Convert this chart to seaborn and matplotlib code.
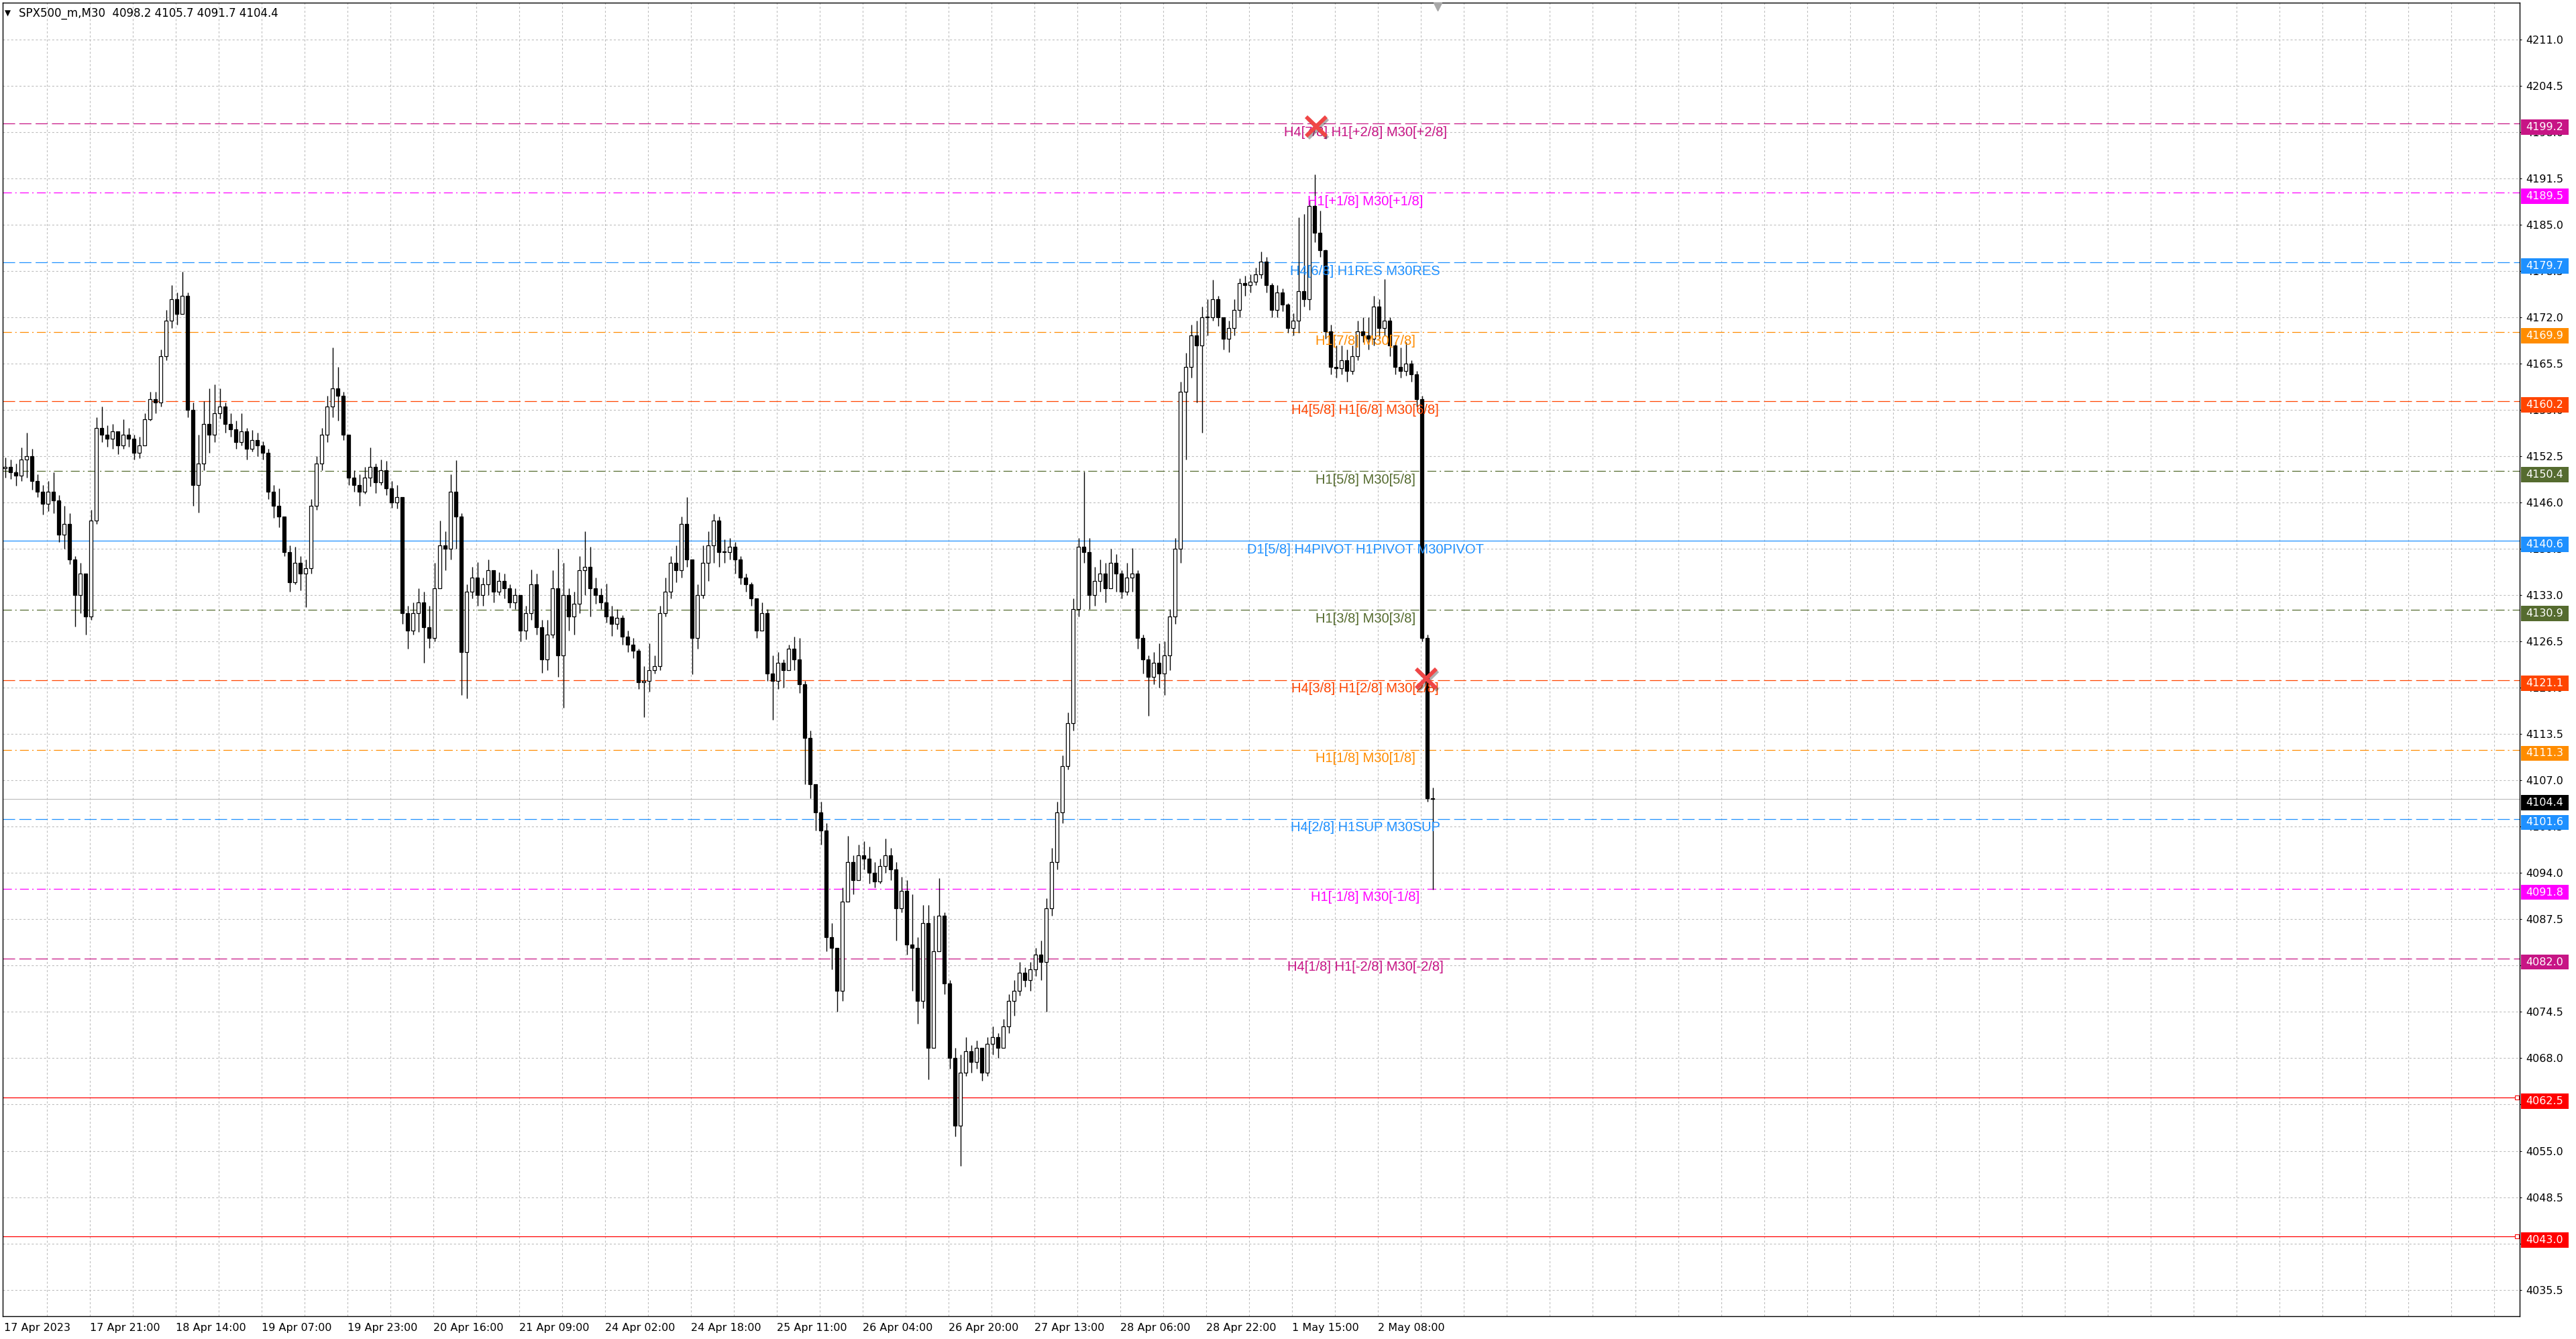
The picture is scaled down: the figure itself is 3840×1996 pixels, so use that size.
import numpy as np
import pandas as pd
import matplotlib
matplotlib.use("Agg")
import matplotlib.pyplot as plt
import matplotlib.patheffects as pe
from matplotlib.patches import Rectangle
import seaborn as sns

# hourly candles (two bars each); open = previous close
first_open = 4150.8
closes = [
    4151.0, 4150.2, 4149.8, 4152.0, 4152.5, 4149.0, 4147.5, 4145.8, 4147.5, 4146.3,
    4141.5, 4143.0, 4138.0, 4133.0, 4136.0, 4130.0, 4143.5, 4156.5, 4155.5, 4155.0,
    4156.0, 4154.0, 4155.5, 4155.0, 4153.0, 4154.0, 4157.7, 4160.5, 4160.0, 4166.5,
    4171.5, 4174.5, 4172.5, 4175.0, 4159.0, 4148.5, 4151.5, 4157.0, 4155.5, 4158.5,
    4159.5, 4157.0, 4156.3, 4154.5, 4156.0, 4153.5, 4154.8, 4154.0, 4153.0, 4147.5,
    4145.5, 4144.0, 4139.0, 4134.8, 4137.5, 4136.0, 4136.8, 4145.5, 4151.5, 4155.5,
    4159.5, 4162.0, 4161.0, 4155.5, 4149.5, 4148.5, 4147.5, 4149.5, 4151.0, 4148.8,
    4150.5, 4148.0, 4146.0, 4146.8, 4130.5, 4128.0, 4130.5, 4132.0, 4128.5, 4127.0,
    4134.0, 4140.0, 4139.5, 4147.5, 4144.0, 4125.0, 4133.5, 4135.5, 4133.0, 4134.5,
    4136.5, 4133.5, 4135.0, 4134.0, 4132.0, 4133.0, 4128.0, 4130.5, 4134.5, 4128.5,
    4124.0, 4127.5, 4134.0, 4124.5, 4133.0, 4130.0, 4131.8, 4136.5, 4137.0, 4134.0,
    4133.0, 4132.0, 4130.0, 4129.0, 4129.8, 4127.2, 4126.0, 4125.2, 4120.8, 4121.0,
    4122.5, 4123.0, 4130.5, 4133.5, 4137.5, 4136.5, 4143.0, 4138.0, 4127.0, 4133.0,
    4137.5, 4140.0, 4143.5, 4139.0, 4139.0, 4139.8, 4138.0, 4135.5, 4134.5, 4132.5,
    4128.0, 4130.5, 4122.0, 4121.0, 4123.5, 4122.5, 4125.5, 4124.0, 4120.5, 4113.0,
    4106.5, 4102.5, 4100.0, 4085.0, 4083.5, 4077.5, 4090.0, 4095.5, 4093.0, 4096.5,
    4096.0, 4094.0, 4092.8, 4095.0, 4096.5, 4094.5, 4089.0, 4091.5, 4084.0, 4083.5,
    4076.0, 4087.0, 4069.5, 4083.0, 4088.0, 4078.5, 4068.0, 4058.5, 4066.0, 4069.0,
    4067.5, 4069.5, 4066.0, 4070.0, 4071.0, 4069.5, 4072.5, 4076.0, 4077.5, 4080.0,
    4079.0, 4080.5, 4082.5, 4081.5, 4089.0, 4095.5, 4102.5, 4109.0, 4115.0, 4131.0,
    4139.8, 4139.0, 4133.0, 4135.0, 4136.0, 4134.0, 4137.5, 4136.0, 4133.5, 4135.5,
    4136.0, 4127.0, 4124.0, 4121.5, 4123.5, 4122.0, 4124.5, 4130.0, 4139.5, 4161.5,
    4165.0, 4169.5, 4168.0, 4172.0, 4172.0, 4174.5, 4172.0, 4169.0, 4170.5, 4173.0,
    4176.8, 4176.5, 4177.0, 4178.0, 4179.8, 4176.5, 4173.0, 4175.5, 4173.8, 4170.5,
    4171.5, 4175.7, 4174.5, 4187.6, 4183.9, 4181.4, 4170.0, 4165.0, 4164.8, 4166.0,
    4164.5, 4166.5, 4170.0, 4169.5, 4169.0, 4173.5, 4170.5, 4171.5, 4168.0, 4165.0,
    4164.5, 4165.5, 4164.0, 4160.5, 4127.0, 4104.5, 4104.4,
]
highs = [
    4152.3, 4152.0, 4151.5, 4153.7, 4155.8, 4153.5, 4150.0, 4148.5, 4149.0, 4150.2,
    4147.0, 4145.5, 4144.5, 4138.5, 4137.5, 4135.0, 4145.0, 4158.0, 4159.5, 4156.8,
    4157.0, 4156.0, 4157.7, 4156.5, 4155.5, 4155.2, 4158.5, 4161.5, 4161.5, 4167.5,
    4173.0, 4176.5, 4175.5, 4178.4, 4175.5, 4160.0, 4155.5, 4160.2, 4162.0, 4162.6,
    4162.0, 4160.0, 4158.5, 4157.5, 4158.5, 4156.5, 4156.2, 4155.8, 4154.6, 4153.5,
    4148.5, 4148.0, 4143.2, 4140.0, 4139.8, 4138.5, 4138.0, 4146.5, 4152.5, 4156.5,
    4161.0, 4167.8, 4165.0, 4161.5, 4155.5, 4150.5, 4150.0, 4151.0, 4153.7, 4151.5,
    4152.0, 4151.8, 4149.0, 4148.5, 4146.5, 4131.5, 4132.0, 4134.0, 4133.5, 4131.5,
    4137.5, 4143.5, 4142.0, 4150.0, 4151.9, 4144.5, 4134.5, 4137.0, 4137.6, 4135.5,
    4138.0, 4136.5, 4136.2, 4136.0, 4134.5, 4134.0, 4133.0, 4131.5, 4136.6, 4136.0,
    4129.5, 4129.5, 4136.5, 4139.5, 4137.5, 4134.0, 4133.5, 4138.5, 4142.0, 4139.8,
    4135.5, 4134.0, 4134.6, 4131.5, 4131.0, 4130.2, 4128.0, 4127.0, 4125.5, 4123.0,
    4126.2, 4124.5, 4131.5, 4135.5, 4138.5, 4140.0, 4144.0, 4146.8, 4138.0, 4134.5,
    4140.0, 4142.0, 4144.4, 4144.0, 4140.8, 4141.0, 4140.5, 4138.5, 4136.0, 4134.8,
    4132.5, 4132.0, 4131.0, 4124.5, 4125.0, 4124.0, 4126.0, 4127.2, 4127.0, 4121.0,
    4114.0, 4106.0, 4104.0, 4101.0, 4087.0, 4083.5, 4092.0, 4099.2, 4096.5, 4098.0,
    4098.5, 4097.7, 4095.5, 4096.0, 4098.8, 4097.5, 4095.5, 4093.5, 4093.0, 4091.0,
    4085.0, 4089.5, 4089.5, 4088.0, 4093.3, 4088.5, 4079.0, 4069.5, 4068.5, 4071.0,
    4069.8, 4070.5, 4069.5, 4071.0, 4072.5, 4071.5, 4073.5, 4077.0, 4079.0, 4081.5,
    4080.8, 4081.5, 4083.5, 4084.5, 4090.5, 4097.5, 4104.0, 4110.5, 4116.5, 4132.5,
    4141.0, 4150.3, 4141.0, 4137.0, 4138.0, 4137.5, 4139.5, 4138.8, 4136.5, 4137.5,
    4139.6, 4136.5, 4127.5, 4124.5, 4125.0, 4126.2, 4126.5, 4131.0, 4141.0, 4163.0,
    4167.0, 4171.0, 4171.5, 4173.5, 4174.5, 4177.3, 4175.0, 4172.0, 4171.5, 4174.5,
    4177.5, 4177.8, 4178.0, 4179.0, 4181.2, 4180.5, 4176.8, 4176.5, 4176.0, 4174.0,
    4172.6, 4186.0, 4186.5, 4188.5, 4192.1, 4187.0, 4181.5, 4171.0, 4168.0, 4168.0,
    4167.5, 4168.0, 4171.5, 4172.0, 4172.0, 4175.0, 4174.5, 4177.4, 4172.0, 4168.5,
    4167.8, 4168.5, 4166.0, 4164.5, 4161.0, 4127.5, 4106.0,
]
lows = [
    4149.5, 4149.3, 4148.4, 4149.0, 4149.5, 4147.8, 4146.8, 4144.3, 4144.8, 4144.5,
    4140.5, 4139.5, 4137.3, 4128.6, 4130.5, 4127.5, 4129.5, 4143.0, 4154.5, 4153.8,
    4153.5, 4152.8, 4153.5, 4153.8, 4152.0, 4152.2, 4154.0, 4157.5, 4158.5, 4159.5,
    4166.0, 4170.5, 4171.0, 4172.5, 4158.0, 4145.5, 4144.6, 4150.5, 4153.0, 4154.5,
    4157.8, 4155.8, 4155.2, 4153.5, 4154.0, 4152.0, 4153.2, 4152.5, 4152.0, 4146.5,
    4143.8, 4142.5, 4138.5, 4133.5, 4134.5, 4133.7, 4131.3, 4136.0, 4145.0, 4150.5,
    4154.5, 4158.0, 4157.5, 4154.8, 4148.5, 4147.5, 4145.5, 4147.2, 4148.3, 4147.3,
    4148.5, 4147.0, 4145.3, 4145.2, 4129.0, 4125.5, 4127.5, 4127.8, 4123.5, 4125.6,
    4126.5, 4135.0, 4136.5, 4138.0, 4139.5, 4119.0, 4118.5, 4132.5, 4131.5, 4131.5,
    4133.0, 4132.0, 4133.0, 4132.5, 4131.2, 4131.0, 4126.5, 4126.8, 4129.5, 4127.5,
    4122.1, 4122.5, 4127.0, 4121.5, 4117.2, 4128.0, 4127.5, 4130.5, 4133.0, 4130.0,
    4131.8, 4131.0, 4129.2, 4127.3, 4128.2, 4126.0, 4125.0, 4124.2, 4119.8, 4115.9,
    4119.5, 4122.0, 4122.5, 4130.0, 4132.5, 4134.8, 4135.5, 4137.0, 4121.9, 4125.5,
    4132.5, 4135.0, 4137.5, 4137.0, 4137.5, 4138.0, 4136.0, 4134.5, 4133.5, 4131.5,
    4127.0, 4128.0, 4121.0, 4115.5, 4119.8, 4120.0, 4122.5, 4122.5, 4119.3, 4106.5,
    4104.5, 4100.0, 4098.0, 4083.0, 4080.5, 4074.5, 4076.0, 4090.5, 4091.0, 4093.0,
    4094.5, 4092.5, 4092.0, 4092.5, 4094.0, 4093.0, 4084.5, 4088.5, 4082.5, 4077.5,
    4072.8, 4075.0, 4065.0, 4069.5, 4083.0, 4077.0, 4066.5, 4057.0, 4052.9, 4065.5,
    4066.0, 4066.5, 4064.8, 4065.5, 4068.5, 4068.0, 4069.5, 4071.5, 4074.0, 4076.8,
    4078.0, 4077.5, 4079.5, 4079.0, 4074.5, 4088.0, 4094.5, 4101.0, 4108.5, 4114.0,
    4130.0, 4137.5, 4131.0, 4131.5, 4133.5, 4132.0, 4134.0, 4133.5, 4132.5, 4133.0,
    4133.5, 4125.5, 4122.0, 4116.1, 4120.5, 4120.0, 4119.0, 4122.5, 4129.0, 4137.5,
    4152.0, 4163.5, 4160.0, 4155.8, 4169.5, 4171.5, 4170.8, 4167.5, 4167.1, 4169.5,
    4172.0, 4175.0, 4175.5, 4176.5, 4177.5, 4175.5, 4172.0, 4172.0, 4172.8, 4169.8,
    4169.5, 4169.8, 4173.5, 4173.0, 4182.5, 4180.5, 4169.0, 4164.0, 4163.5, 4164.0,
    4163.0, 4164.0, 4166.0, 4168.5, 4167.5, 4168.0, 4169.0, 4169.5, 4166.5, 4164.0,
    4163.5, 4163.8, 4163.0, 4159.5, 4126.5, 4104.0, 4091.7,
]

time_labels = [
    "17 Apr 2023", "17 Apr 21:00", "18 Apr 14:00", "19 Apr 07:00", "19 Apr 23:00",
    "20 Apr 16:00", "21 Apr 09:00", "24 Apr 02:00", "24 Apr 18:00", "25 Apr 11:00",
    "26 Apr 04:00", "26 Apr 20:00", "27 Apr 13:00", "28 Apr 06:00", "28 Apr 22:00",
    "1 May 15:00", "2 May 08:00",
]

level_prices = [4199.2, 4189.5, 4179.7, 4169.9, 4160.2, 4150.4, 4140.6,
                4130.9, 4121.1, 4111.3, 4101.6, 4091.8, 4082.0]
level_texts = [
    "H4[7/8] H1[+2/8] M30[+2/8]", "H1[+1/8] M30[+1/8]", "H4[6/8] H1RES M30RES",
    "H1[7/8] M30[7/8]", "H4[5/8] H1[6/8] M30[6/8]", "H1[5/8] M30[5/8]",
    "D1[5/8] H4PIVOT H1PIVOT M30PIVOT", "H1[3/8] M30[3/8]", "H4[3/8] H1[2/8] M30[2/8]",
    "H1[1/8] M30[1/8]", "H4[2/8] H1SUP M30SUP", "H1[-1/8] M30[-1/8]",
    "H4[1/8] H1[-2/8] M30[-2/8]",
]
level_colors = ["#C71585", "#FF00FF", "#1E90FF", "#FF8C00", "#FF4500", "#556B2F",
                "#1E90FF", "#556B2F", "#FF4500", "#FF8C00", "#1E90FF", "#FF00FF",
                "#C71585"]
level_styles = ["dash", "dashdot", "dash", "dashdot", "dash", "dashdot", "solid",
                "dashdot", "dash", "dashdot", "dash", "dashdot", "dash"]

red_levels = [4062.5, 4043.0]
last_price = 4104.4
cross_x = [489.1, 530.1]
cross_y = [4198.8, 4121.3]

sns.set_theme(style="white")
plt.rcParams["font.family"] = ["DejaVu Sans"]
plt.rcParams["lines.scale_dashes"] = False

df = pd.DataFrame({"close": closes, "high": highs, "low": lows})
df["open"] = [first_open] + closes[:-1]
df["x"] = np.arange(len(df)) * 2 + 0.5
df["up"] = df["close"] >= df["open"]

fig = plt.figure(figsize=(38.4, 19.96), dpi=100)
ax = fig.add_axes([4 / 3840, 34 / 1996, 3752 / 3840, 1958 / 1996])
ax.set_xlim(-0.4, 937.6)
ax.set_ylim(4031.79, 4216.16)

# grid
yticks = np.round(np.arange(4211.0, 4035.0, -6.5), 1)
grid_kw = dict(color="#BDBDBD", lw=0.8, ls=(0, (2.2, 2.2)), zorder=0)
for p in yticks:
    ax.axhline(p, **grid_kw)
for b in range(16, 938, 16):
    ax.axvline(b, **grid_kw)

# levels
styles = {"dash": (0, (13, 4.5)), "dashdot": (0, (9.5, 3.6, 1.5, 3.6)), "solid": "-"}
for p, c, s in zip(level_prices, level_colors, level_styles):
    ax.axhline(p, color=c, lw=0.9, ls=styles[s], zorder=1)
for p in red_levels:
    ax.axhline(p, color="#FF0000", lw=0.9, zorder=1)
    ax.plot(936.6, p, marker="s", ms=4, mfc="white", mec="#FF0000", mew=0.8, zorder=2)
ax.axhline(last_price, color="#C0C0C0", lw=0.9, zorder=1)

# candles
ax.vlines(df["x"], df["low"], df["high"], color="black", lw=1.0, zorder=3)
body_lo = df[["open", "close"]].min(axis=1)
body_h = (df["close"] - df["open"]).abs().clip(lower=0.12)
ax.bar(df["x"], body_h, bottom=body_lo, width=1.35,
       color=np.where(df["up"], "white", "black"), edgecolor="black",
       linewidth=0.9, zorder=4)

# level labels
for p, t, c in zip(level_prices, level_texts, level_colors):
    ax.annotate(t, xy=(507.4, p), xytext=(0, -9.5), textcoords="offset points",
                ha="center", va="center", color=c, fontsize=14.5,
                family=["Liberation Sans", "DejaVu Sans"], zorder=5)

# cross marks
ax.plot(cross_x, cross_y, ls="none", marker="x", ms=21, mew=4.2, color="#F04646",
        zorder=6, path_effects=[pe.SimpleLineShadow(offset=(2, -2), alpha=0.35),
                                pe.Normal()])

# axes
ax.yaxis.tick_right()
ax.set_yticks(yticks)
ax.set_yticklabels([f"{v:.1f}" for v in yticks])
ax.tick_params(axis="y", length=2.5, width=0.8, direction="out", pad=4.5,
               labelsize=11.5, colors="black")
ax.set_xticks(np.arange(0, 32 * len(time_labels), 32))
ax.set_xticklabels(time_labels)
for lbl in ax.get_xticklabels():
    lbl.set_horizontalalignment("left")
ax.tick_params(axis="x", length=3, width=0.8, direction="out", pad=4,
               labelsize=11.5, colors="black")
for sp in ax.spines.values():
    sp.set_color("black")
    sp.set_linewidth(1.0)

# price boxes on the right axis
ytr = ax.get_yaxis_transform()
box_prices = level_prices + red_levels + [last_price]
box_colors = level_colors + ["#FF0000", "#FF0000", "black"]
bw = 71 / 3752
for p, c in zip(box_prices, box_colors):
    ax.add_patch(Rectangle((1.0005, p - 0.5 - 1.07), bw, 2.14, transform=ytr,
                           facecolor=c, edgecolor="none", clip_on=False, zorder=10))
    ax.text(1.0005 + bw / 2, p - 0.5, f"{p:.1f}", transform=ytr, ha="center",
            va="center", color="white", fontsize=11.5, zorder=11, clip_on=False)

# chart title and shift marker
fig.text(7 / 3840, 1 - 20 / 1996, "\u25BC", fontsize=8.5, va="center", color="black")
fig.text(28 / 3840, 1 - 20 / 1996, "SPX500_m,M30  4098.2 4105.7 4091.7 4104.4",
         fontsize=12, va="center", ha="left", color="black")
ax.plot(534.4, 4215.6, marker="v", ms=8, color="#A8A8A8", clip_on=False, zorder=7)

fig.savefig("out.png", dpi=100, facecolor="white")
